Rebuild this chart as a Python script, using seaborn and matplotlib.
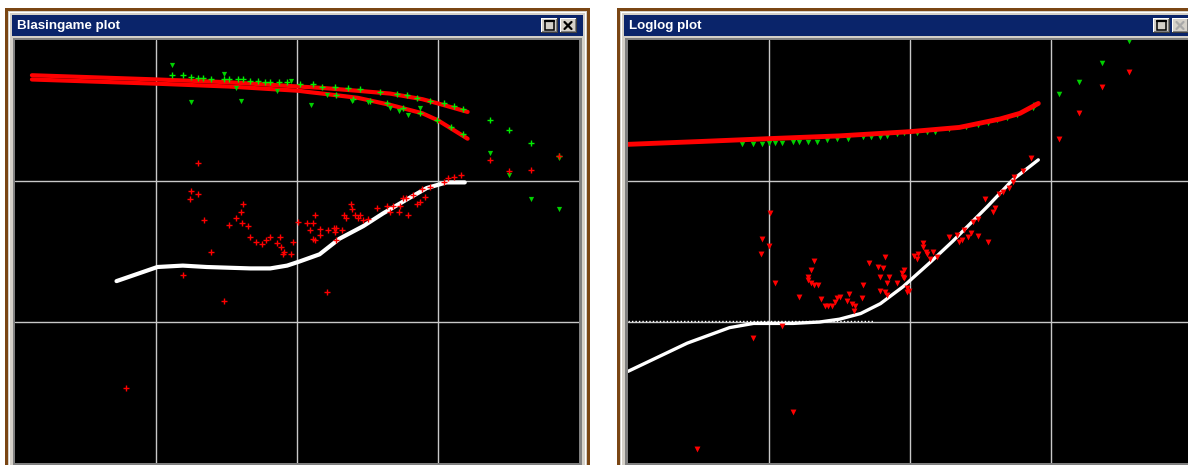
#!/usr/bin/env python3
# Blasingame / loglog type-curve windows (values in log10 decades)

import matplotlib
matplotlib.use("Agg")
import matplotlib.pyplot as plt
from matplotlib.patches import Rectangle
import seaborn as sns

sns.set_theme(style="darkgrid", rc={
    "axes.facecolor": "black",
    "grid.color": "#c8c8c8",
    "grid.linewidth": 1.0,
    "figure.facecolor": "white",
})

# ---------------- Blasingame plot data (log10 units) ----------------
bl_curve_a_x = [-0.88, 0.01, 0.52, 1.01, 1.18, 1.43, 1.66, 1.89, 2.0, 2.21]
bl_curve_a_y = [0.75, 0.72, 0.70, 0.67, 0.66, 0.64, 0.62, 0.58, 0.55, 0.49]
bl_curve_b_x = [-0.88, 0.01, 0.52, 1.01, 1.09, 1.18, 1.43, 1.66, 1.89, 2.0, 2.21]
bl_curve_b_y = [0.72, 0.69, 0.67, 0.64, 0.63, 0.62, 0.59, 0.54, 0.48, 0.43, 0.30]

bl_deriv_x = [-0.28, 0.01, 0.19, 0.36, 0.67, 0.81, 0.93, 1.02, 1.16, 1.30,
              1.47, 1.61, 1.78, 1.92, 2.06, 2.19]
bl_deriv_y = [-0.71, -0.61, -0.60, -0.61, -0.62, -0.62, -0.60, -0.57, -0.52, -0.41,
              -0.32, -0.23, -0.13, -0.05, -0.01, -0.01]

bl_red_x = [0.30, 0.25, 0.30, 0.24, 0.34, 0.39, 0.19, 0.48, 0.52, 0.62, 0.60, 0.57,
            0.61, 0.65, 0.67, 0.71, 0.75, 0.78, 0.81, 0.88, 0.86, 0.89, 0.91, 0.90,
            0.96, 0.97, 1.01, 1.07, 1.11, 1.09, 1.11, 1.13, 1.13, 1.16, 1.16, 1.22,
            1.26, 1.28, 1.27, 1.32, 1.21, 1.28, 1.38, 1.39, 1.33, 1.35, 1.41, 1.43,
            1.45, 1.47, 1.50, 1.57, 1.64, 1.66, 1.68, 1.72, 1.73, 1.75, 1.77, 1.79,
            1.82, 1.85, 1.87, 1.89, 1.91, 1.94, 2.04, 2.07, 2.11, 2.16, -0.21, 2.37,
            2.50, 2.66, 2.86]
bl_red_y = [0.13, -0.07, -0.09, -0.13, -0.28, -0.50, -0.67, -0.85, -0.31, -0.16,
            -0.22, -0.26, -0.30, -0.32, -0.40, -0.43, -0.45, -0.42, -0.40, -0.40,
            -0.44, -0.47, -0.50, -0.52, -0.52, -0.43, -0.29, -0.30, -0.30, -0.35,
            -0.41, -0.42, -0.24, -0.34, -0.38, -0.35, -0.33, -0.33, -0.36, -0.35,
            -0.79, -0.42, -0.16, -0.20, -0.24, -0.26, -0.24, -0.26, -0.24, -0.28,
            -0.27, -0.19, -0.18, -0.22, -0.18, -0.22, -0.18, -0.12, -0.12, -0.24,
            -0.10, -0.16, -0.15, -0.06, -0.11, -0.04, -0.01, 0.02, 0.03, 0.04,
            -1.47, 0.15, 0.07, 0.08, 0.18]

bl_green_plus_x = [0.11, 0.19, 0.25, 0.30, 0.33, 0.39, 0.48, 0.52, 0.58, 0.62, 0.67,
                   0.72, 0.77, 0.81, 0.87, 0.93, 1.02, 1.11, 1.18, 1.27, 1.36, 1.45,
                   1.59, 1.71, 1.78, 1.85, 1.94, 2.04, 2.11, 2.18, 1.28, 1.40, 1.52,
                   1.64, 1.75, 1.87, 1.99, 2.09, 2.18, 2.37, 2.50, 2.66, 2.86]
bl_green_plus_y = [0.75, 0.75, 0.74, 0.73, 0.73, 0.72, 0.72, 0.72, 0.72, 0.72, 0.71,
                   0.71, 0.70, 0.70, 0.70, 0.70, 0.69, 0.69, 0.67, 0.67, 0.66, 0.65,
                   0.63, 0.62, 0.61, 0.59, 0.57, 0.55, 0.53, 0.51, 0.61, 0.58, 0.57,
                   0.55, 0.52, 0.48, 0.43, 0.38, 0.33, 0.43, 0.36, 0.27, 0.18]

bl_green_tri_x = [0.11, 0.25, 0.48, 0.60, 0.96, 1.10, 0.57, 0.86, 1.21, 1.39, 1.50,
                  1.66, 1.72, 1.79, 1.87, 2.37, 2.50, 2.66, 2.86, 2.86]
bl_green_tri_y = [0.82, 0.56, 0.76, 0.57, 0.71, 0.54, 0.66, 0.64, 0.61, 0.57, 0.56,
                  0.52, 0.50, 0.47, 0.52, 0.20, 0.04, -0.13, 0.16, -0.20]

# ---------------- Loglog plot data (log10 units) ----------------
ll_curve_x = [-1.0, -0.49, -0.01, 0.50, 1.0, 1.35, 1.64, 1.78, 1.91]
ll_curve_y = [0.26, 0.28, 0.30, 0.32, 0.35, 0.38, 0.44, 0.48, 0.55]

ll_deriv_x = [-1.0, -0.58, -0.28, -0.11, 0.17, 0.36, 0.50, 0.65, 0.79, 0.95,
              1.14, 1.30, 1.55, 1.73, 1.91]
ll_deriv_y = [-1.35, -1.15, -1.04, -1.01, -1.01, -1.0, -0.98, -0.94, -0.87, -0.75,
              -0.58, -0.43, -0.18, 0.01, 0.15]

ll_flat_x = [-1.0, 0.74]
ll_flat_y = [-0.99, -0.99]

ll_green_x = [-0.19, -0.11, -0.05, 0.0, 0.04, 0.09, 0.17, 0.21, 0.28, 0.34, 0.41,
              0.48, 0.56, 0.67, 0.72, 0.79, 0.84, 0.91, 0.96, 1.05, 1.12, 1.18,
              1.28, 1.40, 1.48, 1.55, 1.62, 1.69, 1.76, 1.87, 1.89, 2.06, 2.20,
              2.36, 2.55]
ll_green_y = [0.26, 0.26, 0.26, 0.27, 0.27, 0.27, 0.28, 0.28, 0.28, 0.28, 0.29,
              0.30, 0.30, 0.31, 0.31, 0.31, 0.32, 0.33, 0.34, 0.34, 0.35, 0.35,
              0.37, 0.38, 0.40, 0.41, 0.43, 0.45, 0.47, 0.52, 0.54, 0.62, 0.70,
              0.84, 0.99]

ll_red_x = [2.06, 2.20, 2.36, 2.55, 1.86, 1.80, 1.74, 1.73, 1.70, 1.66, 1.63, 1.60,
            1.59, 1.53, 1.55, 1.48, 1.48, 1.45, 1.43, 1.41, 1.38, 1.37, 1.35, 1.33,
            1.28, 1.19, 1.16, 1.14, 1.12, 1.11, 1.09, 1.09, 1.06, 1.05, 1.03, 0.99,
            0.98, 0.98, 0.96, 0.96, 0.95, 0.94, 0.91, 0.85, 0.84, 0.84, 0.82, 0.79,
            0.82, 0.81, 0.79, 0.77, 0.71, 0.67, 0.66, 0.61, 0.60, 0.59, 0.57, 0.55,
            0.50, 0.48, 0.47, 0.45, 0.42, 0.40, 0.37, 0.35, 0.32, 0.30, 0.28, 0.28,
            0.30, 0.32, 0.21, 0.09, -0.11, 0.04, -0.06, 0.0, -0.05, 0.01, 0.17, -0.51]
ll_red_y = [0.30, 0.48, 0.67, 0.77, 0.16, 0.07, 0.03, -0.01, -0.05, -0.08, -0.09,
            -0.19, -0.22, -0.13, -0.43, -0.27, -0.39, -0.29, -0.37, -0.40, -0.35,
            -0.42, -0.43, -0.38, -0.40, -0.54, -0.50, -0.55, -0.52, -0.50, -0.47,
            -0.44, -0.52, -0.55, -0.53, -0.78, -0.79, -0.76, -0.69, -0.63, -0.68,
            -0.65, -0.72, -0.68, -0.72, -0.81, -0.79, -0.78, -0.54, -0.62, -0.68,
            -0.61, -0.58, -0.74, -0.83, -0.89, -0.92, -0.87, -0.80, -0.85, -0.82,
            -0.83, -0.86, -0.89, -0.89, -0.89, -0.84, -0.74, -0.74, -0.72, -0.70,
            -0.68, -0.63, -0.57, -0.82, -1.03, -1.11, -0.72, -0.52, -0.46, -0.41,
            -0.23, -1.64, -1.90]

W, H = 1188, 465
fig = plt.figure(figsize=(W / 100, H / 100), dpi=100)

# window chrome drawn in pixel coordinates
bg = fig.add_axes([0, 0, 1, 1])
bg.set_xlim(0, W)
bg.set_ylim(H, 0)
bg.axis("off")

BROWN = "#7a4614"
FRAME = "#d4d0c8"
NAVY = "#0a246a"


def rect(x, y, w, h, fc, ec="none", lw=0):
    bg.add_patch(Rectangle((x, y), w, h, facecolor=fc, edgecolor=ec, linewidth=lw))


def window(x0, x1, title, close_enabled):
    rect(x0, 8, x1 - x0, 470, BROWN)
    rect(x0 + 3, 11, x1 - x0 - 6, 470, FRAME)
    rect(x0 + 4, 12, x1 - x0 - 8, 470, "#ffffff")
    rect(x0 + 5, 13, x1 - x0 - 10, 470, FRAME)
    rect(x0 + 7, 15, x1 - x0 - 14, 21, NAVY)
    bg.text(x0 + 12, 26, title, color="white", fontsize=9.6, fontweight="bold",
            family="Liberation Sans", va="center", ha="left")
    # buttons (maximize, close)
    bx = x1 - 49
    for i in range(2):
        xb = bx + i * 19
        rect(xb, 18, 17, 15, "#404040")
        rect(xb, 18, 16, 14, "#ffffff")
        rect(xb + 1, 19, 15, 13, "#808080")
        rect(xb + 1, 19, 14, 12, FRAME)
    rect(bx + 4, 21, 9, 9, "none", ec="black", lw=1.1)
    bg.plot([bx + 4, bx + 13], [21.5, 21.5], color="black", lw=1.6)
    xc = bx + 19
    col = "black" if close_enabled else "#a8a8a8"
    bg.plot([xc + 4.5, xc + 11.5], [22, 29], color=col, lw=1.6)
    bg.plot([xc + 11.5, xc + 4.5], [22, 29], color=col, lw=1.6)
    rect(x0 + 8, 38, x1 - x0 - 16, 470, "#808080")


window(5, 590, "Blasingame plot", True)
window(617, 1202, "Loglog plot", False)


def make_axes(left_px):
    ax = fig.add_axes([left_px / W, 2 / H, 564 / W, 423 / H])
    ax.set_xlim(-1, 3)
    ax.set_ylim(-2, 1)
    ax.set_xticks([0, 1, 2])
    ax.set_yticks([-1, 0])
    ax.tick_params(length=0, labelbottom=False, labelleft=False)
    for s in ax.spines.values():
        s.set_visible(False)
    ax.grid(True, color="#c8c8c8", lw=1.0)
    ax.set_axisbelow(True)
    return ax


RED = "#ff0000"
GREEN = "#00ee00"

# ---- Blasingame plot ----
ax1 = make_axes(15)
sns.lineplot(x=bl_curve_b_x, y=bl_curve_b_y, sort=False, estimator=None,
             color=RED, lw=3.0, ax=ax1)
sns.lineplot(x=bl_curve_a_x, y=bl_curve_a_y, sort=False, estimator=None,
             color=RED, lw=3.0, ax=ax1)
sns.scatterplot(x=bl_green_plus_x, y=bl_green_plus_y, marker="+", color=GREEN,
                s=22, linewidth=1.0, ax=ax1, zorder=3)
sns.scatterplot(x=bl_green_tri_x, y=bl_green_tri_y, marker="v", color="#00d000",
                s=14, linewidth=0, ax=ax1, zorder=3)
sns.lineplot(x=bl_deriv_x, y=bl_deriv_y, sort=False, estimator=None,
             color="white", lw=3.0, ax=ax1)
sns.scatterplot(x=bl_red_x, y=bl_red_y, marker="+", color=RED,
                s=25, linewidth=1.0, ax=ax1, zorder=4)

# ---- Loglog plot ----
ax2 = make_axes(628)
sns.scatterplot(x=ll_green_x, y=ll_green_y, marker="v", color="#00d000",
                s=16, linewidth=0, ax=ax2, zorder=2)
sns.lineplot(x=ll_curve_x, y=ll_curve_y, sort=False, estimator=None,
             color=RED, lw=3.5, ax=ax2)
sns.lineplot(x=ll_flat_x, y=ll_flat_y, sort=False, estimator=None,
             color="white", lw=1.0, ls=(0, (1, 1.5)), ax=ax2)
sns.lineplot(x=ll_deriv_x, y=ll_deriv_y, sort=False, estimator=None,
             color="white", lw=2.4, ax=ax2)
sns.scatterplot(x=ll_red_x, y=ll_red_y, marker="v", color=RED,
                s=18, linewidth=0, ax=ax2, zorder=4)

for ax in (ax1, ax2):
    ax.set_xlabel("")
    ax.set_ylabel("")

fig.savefig("out.png", dpi=100)
